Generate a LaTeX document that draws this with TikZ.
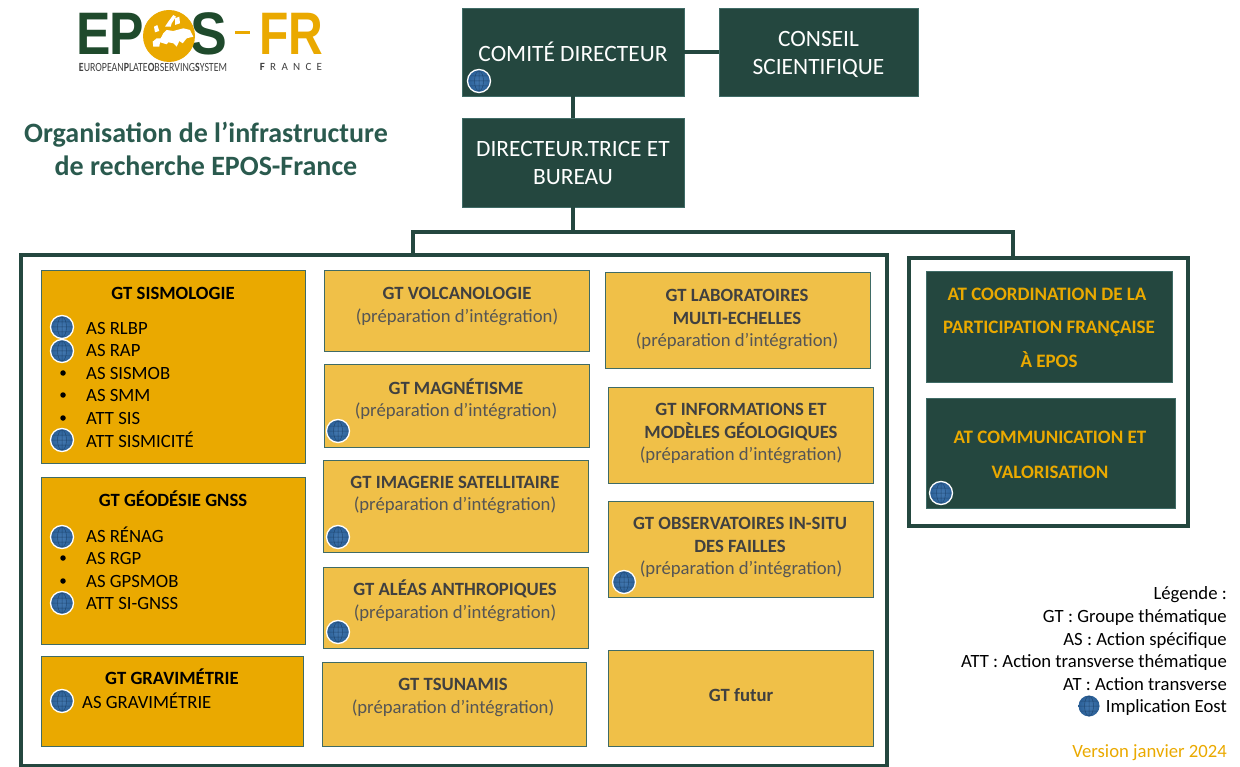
\documentclass[tikz,border=0pt]{standalone}
\usepackage{fontspec}
\setmainfont{Carlito}
\newfontfamily\logofont{Liberation Sans}
\usetikzlibrary{positioning}
\definecolor{sapin}{HTML}{24473F}
\definecolor{logovert}{HTML}{1F4A2C}
\definecolor{orfonce}{HTML}{EAA900}
\definecolor{orclair}{HTML}{F0C048}
\definecolor{titrevert}{HTML}{2A5A4E}
\definecolor{bordure}{HTML}{3F6B66}
\definecolor{gristexte}{HTML}{404040}
\definecolor{grisprep}{HTML}{555555}
\definecolor{bleuglobe}{HTML}{2F6AA8}
\tikzset{
  dirbox/.style={fill=sapin, draw=bordure, line width=0.6pt, inner sep=0pt, text=white, align=center,
    font=\fontsize{23.4}{28}\selectfont},
  dirtext/.style={text=white, align=center, inner sep=0pt, font=\fontsize{23.4}{28}\selectfont},
  gtdark/.style={fill=orfonce, draw=bordure, line width=1pt, inner sep=0pt},
  gtlight/.style={fill=orclair, draw=bordure, line width=1pt, inner sep=0pt},
  atbox/.style={fill=sapin, draw=bordure, line width=0.6pt, inner sep=0pt},
  cadre/.style={draw=sapin, line width=4pt, inner sep=0pt},
  lien/.style={draw=sapin, line width=4pt},
  gtname/.style={font=\fontsize{18.7}{23}\selectfont\bfseries, text=gristexte, align=center, inner sep=0pt},
  gtblack/.style={font=\fontsize{18.7}{23}\selectfont\bfseries, text=black, align=center, inner sep=0pt},
  prep/.style={font=\fontsize{18.7}{23}\selectfont, text=grisprep, align=center, inner sep=0pt, yshift=-1.5pt},
  item/.style={font=\fontsize{18.7}{23}\selectfont, text=black, anchor=west, inner sep=0pt},
  puce/.style={circle, fill=black, inner sep=0pt, minimum size=5.5},
  attext/.style={font=\fontsize{19}{23}\selectfont\bfseries, text=orfonce, align=center, inner sep=0pt},
  legende/.style={font=\fontsize{18.7}{23}\selectfont, text=black, anchor=east, inner sep=0pt, yshift=-2pt},
  logolettre/.style={font=\fontsize{60}{60}\logofont\bfseries, inner sep=0pt},
  globe/.style={circle, draw=white, line width=1.3pt, inner sep=0pt, minimum size=23,
    inner color=bleuglobe!90!white, outer color=bleuglobe!90!black,
    path picture={
      \draw[bleuglobe!70!black, line width=0.5pt]
        (path picture bounding box.center) ellipse [x radius=4.5, y radius=10]
        (path picture bounding box.center) ++(-11,0) -- ++(22,0)
        (path picture bounding box.center) ++(-11,-5) -- ++(22,0)
        (path picture bounding box.center) ++(-11,5) -- ++(22,0)
        (path picture bounding box.center) ++(0,-11) -- ++(0,22);
    }},
}
\begin{document}
\begin{tikzpicture}[x=1pt,y=-1pt]
    \useasboundingbox (0,0) rectangle (1240,767);
    % logo
    \node[logolettre, text=logovert, xscale=0.86] (logoe) at (94,33.5) {E};
    \node[logolettre, text=logovert, xscale=0.86] (logop) at (127,33.5) {P};
    \node[logolettre, text=logovert, xscale=0.92] (logos) at (209,33.5) {S};
    \node[circle, fill=orfonce, minimum size=52, inner sep=0pt] (logoo) at (169,36) {};
    \fill[white] (152.7,41.7) -- (156.7,38.3) -- (160.7,38.3) -- (163.3,33.3) -- (166.7,30) -- (173.3,31)
        -- (183.3,28.3) -- (190,30) -- (193.3,36.7) -- (186.7,38.3) -- (182.7,43.3) -- (179.3,41)
        -- (176.7,46.7) -- (173.3,43.3) -- (168.3,42.3) -- (166.7,44.3) -- (160,42.3) -- (159.3,46.7)
        -- (153.3,46.7) -- cycle;
    \fill[white] (165,26.7) -- (168.3,21.7) -- (173.3,15) -- (176,16.7) -- (171.7,23.3) -- (170.7,26.7) -- cycle;
    \fill[white] (175,18.3) -- (179.3,16.7) -- (180,23.3) -- (175,25) -- cycle;
    \fill[white] (154,26.7) -- (157.3,25) -- (159.3,31) -- (155,32.3) -- cycle;
    \node[font=\fontsize{12.5}{13}\selectfont, text=gristexte, inner sep=0pt, xscale=0.79] (logotexte) at (153,67)
        {\textbf{E}UROPEAN\textbf{P}LATE\textbf{O}BSERVING\textbf{S}YSTEM};
    \node[fill=orfonce, minimum width=15, minimum height=3, inner sep=0pt] (logotiret) at (242.5,33) {};
    \node[logolettre, text=orfonce, xscale=0.8] (logofr) at (291,33.5) {FR};
    \node[font=\fontsize{11}{12}\selectfont, text=gristexte, inner sep=0pt] (logofrance) at (291,67)
        {\textbf{F}\hspace{5.3pt}R\hspace{5.3pt}A\hspace{5.3pt}N\hspace{5.3pt}C\hspace{5.3pt}E};
    % titre
    \node[font=\fontsize{28}{33}\selectfont\bfseries, text=titrevert, align=center, inner sep=0pt] (titre) at (206,149)
        {Organisation de l’infrastructure\\de recherche EPOS-France};
    % direction
    \node[dirbox, minimum width=222, minimum height=88] (comite) at (573,52) {COMITÉ DIRECTEUR};
    \node[dirbox, minimum width=199, minimum height=88] (conseil) at (818.5,52) {};
    \node[dirtext] (conseilt) at (818.5,54) {CONSEIL\\SCIENTIFIQUE};
    \node[dirbox, minimum width=222, minimum height=89] (direct) at (573,162.5) {};
    \node[dirtext] (directt) at (573,163) {DIRECTEUR.TRICE ET\\BUREAU};
    \node[globe] (eostcomite) at (479,81) {};
    % cadres
    \node[cadre, minimum width=866, minimum height=511] (cadregt) at (454,510.5) {};
    \node[cadre, minimum width=279, minimum height=268] (cadreat) at (1048.5,392) {};
    \coordinate (split) at (573,232);
    \coordinate (splitg) at (413,232);
    \coordinate (splitd) at (1013,232);
    \draw[lien] (comite) -- (conseil);
    \draw[lien] (comite) -- (direct);
    \draw[lien] (direct) -- (split);
    \draw[lien] (splitg |- cadregt.north) -- (splitg) -- (splitd) -- (splitd |- cadreat.north);
    % GT colonne 1
    \node[gtdark, minimum width=264, minimum height=192] (sismo) at (173,367) {};
    \node[gtdark, minimum width=264, minimum height=167] (geod) at (173,560.5) {};
    \node[gtdark, minimum width=262, minimum height=90] (gravi) at (172,701) {};
    \node[gtblack] (sismot) at (173,293) {GT SISMOLOGIE};
    \node[globe] (eost1) at (62,327) {};
    \node[globe] (eost2) at (62,351) {};
    \node[puce] (puce3) at (63,373) {};
    \node[puce] (puce4) at (63,395) {};
    \node[puce] (puce5) at (63,418) {};
    \node[globe] (eost6) at (62,440) {};
    \node[item] (rlbp) at (86,328) {AS RLBP};
    \node[item] (rap) at (86,350) {AS RAP};
    \node[item] (sismob) at (86,373) {AS SISMOB};
    \node[item] (smm) at (86,395) {AS SMM};
    \node[item] (attsis) at (86,418) {ATT SIS};
    \node[item] (sismic) at (86,440) {ATT SISMICITÉ};
    \node[gtblack] (geodt) at (173,499) {GT GÉODÉSIE GNSS};
    \node[globe] (eost7) at (62,537) {};
    \node[puce] (puce8) at (63,558) {};
    \node[puce] (puce9) at (63,581) {};
    \node[globe] (eost10) at (62,603) {};
    \node[item] (renag) at (86,535) {AS RÉNAG};
    \node[item] (rgp) at (86,558) {AS RGP};
    \node[item] (gpsmob) at (86,581) {AS GPSMOB};
    \node[item] (signss) at (86,603) {ATT SI-GNSS};
    \node[gtblack] (gravit) at (172,677) {GT GRAVIMÉTRIE};
    \node[globe] (eost11) at (62,701) {};
    \node[item] (asgravi) at (82,701) {AS GRAVIMÉTRIE};
    % GT colonne 2
    \node[gtlight, minimum width=265, minimum height=81] (volc) at (457,311.5) {};
    \node[gtlight, minimum width=265, minimum height=82] (magn) at (456.5,406) {};
    \node[gtlight, minimum width=265, minimum height=92] (imag) at (455.5,506) {};
    \node[gtlight, minimum width=265, minimum height=81] (alea) at (455.5,607.5) {};
    \node[gtlight, minimum width=264, minimum height=84] (tsun) at (454,704) {};
    \node[gtname] (volct) at (457,293) {GT VOLCANOLOGIE};
    \node[prep] (volcp) at (457,316) {(préparation d’intégration)};
    \node[gtname] (magnt) at (456,387) {GT MAGNÉTISME};
    \node[prep] (magnp) at (456,410) {(préparation d’intégration)};
    \node[globe] (eost12) at (338,431) {};
    \node[gtname] (imagt) at (455,482) {GT IMAGERIE SATELLITAIRE};
    \node[prep] (imagp) at (455,504) {(préparation d’intégration)};
    \node[globe] (eost13) at (338,537) {};
    \node[gtname] (aleat) at (455,589) {GT ALÉAS ANTHROPIQUES};
    \node[prep] (aleap) at (455,612) {(préparation d’intégration)};
    \node[globe] (eost14) at (338,632) {};
    \node[gtname] (tsunt) at (453,684) {GT TSUNAMIS};
    \node[prep] (tsunp) at (453,707) {(préparation d’intégration)};
    % GT colonne 3
    \node[gtlight, minimum width=265, minimum height=96] (labo) at (737.5,321) {};
    \node[gtlight, minimum width=265, minimum height=96] (info) at (740.5,435) {};
    \node[gtlight, minimum width=265, minimum height=96] (obse) at (740.5,549) {};
    \node[gtlight, minimum width=265, minimum height=96] (futur) at (740.5,698) {};
    \node[gtname] (labot) at (737,307) {GT LABORATOIRES\\MULTI-ECHELLES};
    \node[prep] (labop) at (737,340) {(préparation d’intégration)};
    \node[gtname] (infot) at (741,422) {GT INFORMATIONS ET\\MODÈLES GÉOLOGIQUES};
    \node[prep] (infop) at (741,454) {(préparation d’intégration)};
    \node[gtname] (obset) at (740,535) {GT OBSERVATOIRES IN-SITU\\DES FAILLES};
    \node[prep] (obsep) at (741,568) {(préparation d’intégration)};
    \node[globe] (eost15) at (624,582) {};
    \node[gtname] (futurt) at (741,695) {GT futur};
    % AT
    \node[atbox, minimum width=246, minimum height=111] (atcoord) at (1049,326.5) {};
    \node[atbox, minimum width=249, minimum height=110] (atcomm) at (1050.5,453) {};
    \node[attext] (atcoordt1) at (1047,294) {AT COORDINATION DE LA};
    \node[attext] (atcoordt2) at (1049,328.5) {PARTICIPATION FRANÇAISE};
    \node[attext] (atcoordt3) at (1049,360) {À EPOS};
    \node[attext] (atcommt1) at (1050,437) {AT COMMUNICATION ET};
    \node[attext] (atcommt2) at (1050,472) {VALORISATION};
    \node[globe] (eost16) at (941,493) {};
    % legende
    \node[legende] (leg0) at (1227,593) {Légende :};
    \node[legende] (leg1) at (1227,616) {GT : Groupe thématique};
    \node[legende] (leg2) at (1227,639) {AS : Action spécifique};
    \node[legende] (leg3) at (1227,661) {ATT : Action transverse thématique};
    \node[legende] (leg4) at (1227,682) {AT : Action transverse};
    \node[legende] (leg5) at (1227,706) {Implication Eost};
    \node[globe, draw=none, minimum size=21] (eostleg) at (1089,706) {};
    \node[legende, text=orfonce] (version) at (1227,751) {Version janvier 2024};
\end{tikzpicture}
\end{document}
